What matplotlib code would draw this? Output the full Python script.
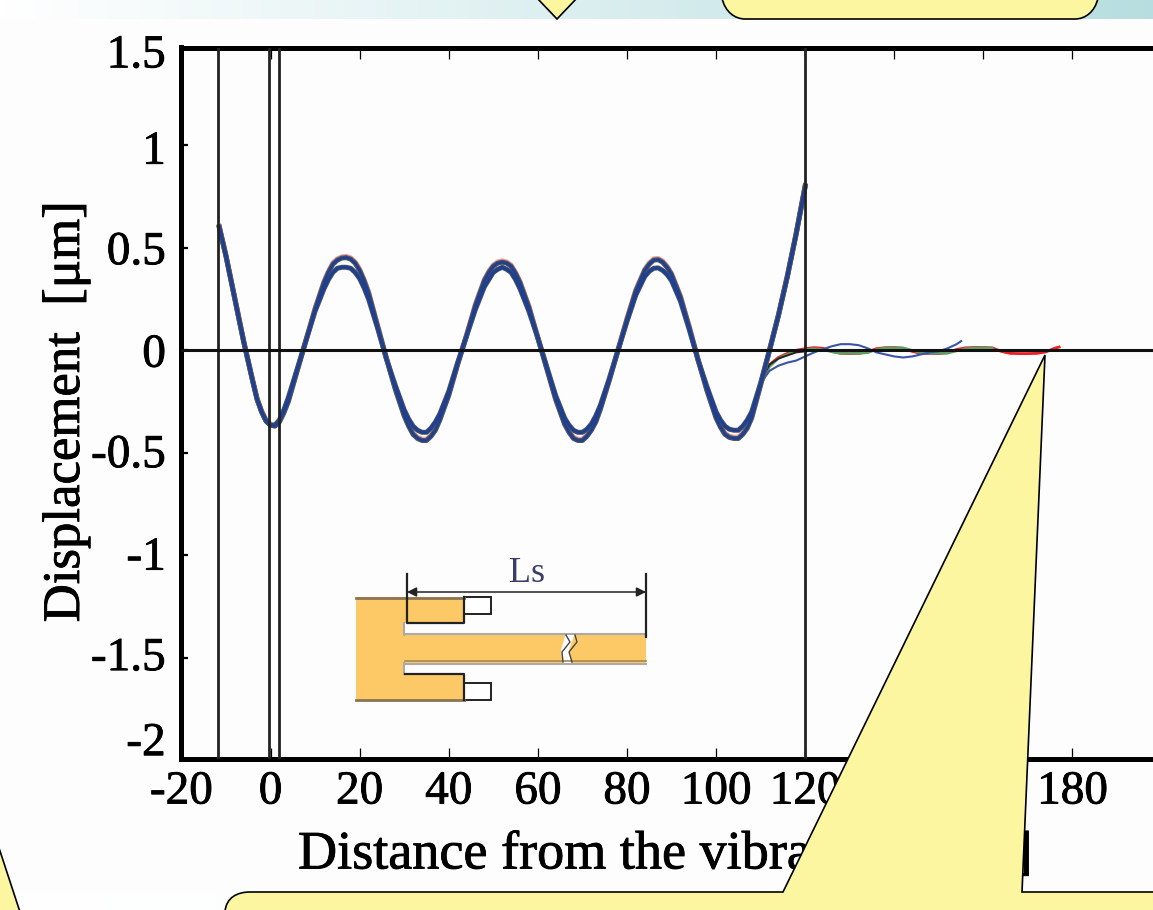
import matplotlib
matplotlib.use("Agg")
import matplotlib.pyplot as plt
import matplotlib.patheffects as pe
import numpy as np
from matplotlib.patches import Polygon, Rectangle, PathPatch
from matplotlib.path import Path

W, H = 1153, 910

# main standing wave
x_main = [-11.5, -10, -8, -6, -4, -3, -2, -1, 0, 1, 2, 3, 4, 6, 8, 10, 12, 13, 14, 15, 16, 17, 18, 19, 20, 21, 22, 24, 26, 28, 30, 31, 32, 33, 34, 35,
          36, 37, 38, 40, 42, 44, 46, 48, 49, 50, 51, 52, 53, 54, 55, 56, 58, 60, 62, 64, 66, 67, 68, 69, 70, 71, 72, 73, 74, 76, 78,
          80, 82, 84, 85, 86, 87, 88, 89, 90, 92, 94, 96, 98, 100, 101, 102, 103, 104, 105, 106, 107, 108, 110, 112, 114, 116, 118, 120]
y_outer = [0.60, 0.46, 0.25, 0.04, -0.15, -0.24, -0.30, -0.345, -0.365, -0.37, -0.35, -0.305, -0.25, -0.10, 0.05, 0.20, 0.33, 0.38, 0.42, 0.44, 0.45, 0.452, 0.445, 0.425,
           0.39, 0.34, 0.28, 0.12, -0.04, -0.19, -0.32, -0.37, -0.41, -0.43, -0.44, -0.44,
           -0.42, -0.39, -0.34, -0.22, -0.07, 0.07, 0.22, 0.34, 0.38, 0.41, 0.425, 0.43, 0.425, 0.41, 0.375, 0.33, 0.21, 0.06, -0.09, -0.24, -0.36, -0.40,
           -0.43, -0.44, -0.44, -0.42, -0.39, -0.35, -0.29, -0.15, 0.0,
           0.15, 0.29, 0.39, 0.42, 0.44, 0.442, 0.43, 0.405, 0.37, 0.26, 0.11, -0.05, -0.20, -0.33, -0.375, -0.41, -0.425, -0.43, -0.43, -0.41, -0.38, -0.33, -0.17,
           0.0, 0.17, 0.36, 0.57, 0.80]
y_inner = [0.60, 0.46, 0.25, 0.04, -0.15, -0.24, -0.30, -0.345, -0.365, -0.365, -0.34, -0.29, -0.23, -0.09, 0.05, 0.19, 0.30, 0.345, 0.38, 0.40, 0.405, 0.405, 0.40, 0.38,
           0.35, 0.305, 0.25, 0.11, -0.04, -0.17, -0.29, -0.335, -0.37, -0.39, -0.40, -0.40,
           -0.38, -0.35, -0.31, -0.20, -0.06, 0.07, 0.20, 0.31, 0.345, 0.38, 0.395, 0.405, 0.395, 0.38, 0.345, 0.30, 0.19, 0.06, -0.08, -0.22, -0.33, -0.365,
           -0.39, -0.40, -0.40, -0.385, -0.36, -0.32, -0.27, -0.14, 0.0,
           0.14, 0.27, 0.36, 0.385, 0.40, 0.402, 0.39, 0.37, 0.34, 0.24, 0.10, -0.05, -0.18, -0.30, -0.34, -0.37, -0.385, -0.39, -0.39, -0.37, -0.34, -0.30, -0.16,
           0.0, 0.17, 0.36, 0.57, 0.80]

# transmitted tails
x_blue = [110, 111, 112, 114, 116, 118, 120, 122, 124, 126, 128, 130, 132, 134, 136, 138, 140, 142, 144, 146, 148, 150, 152, 154, 155]
y_blue = [-0.17, -0.13, -0.10, -0.075, -0.06, -0.05, -0.03, -0.01, 0.005, 0.02, 0.03, 0.03, 0.025, 0.01,
          -0.01, -0.02, -0.03, -0.035, -0.03, -0.02, -0.01, -0.005, 0.01, 0.03, 0.045]
x_black = [110, 111, 112, 114, 116, 118, 120, 122]
y_black = [-0.17, -0.11, -0.07, -0.04, -0.025, -0.01, -0.005, 0.0]
x_red = [110, 112, 114, 116, 118, 120, 122, 124, 126, 128, 130, 132, 134, 136, 138, 140, 142, 144, 146, 148,
         150, 152, 154, 156, 158, 160, 162, 164, 166, 168, 170, 172, 174, 176, 177]
y_red = [-0.17, -0.07, -0.035, -0.015, 0.0, 0.008, 0.013, 0.01, -0.005, -0.015, -0.016, -0.015, -0.008, 0.008, 0.013, 0.014,
         0.01, -0.005, -0.015, -0.016, -0.016, -0.012, 0.004, 0.012, 0.014, 0.014, 0.012, -0.005, -0.015, -0.016, -0.016,
         -0.015, -0.008, 0.01, 0.016]
x_green = [110, 112, 114, 116, 118, 120, 122, 124, 126, 128, 130, 132, 134, 136, 138, 140, 142, 144, 146, 148, 150,
           152, 154, 156, 158, 160, 162]
y_green = [-0.17, -0.08, -0.04, -0.02, -0.005, 0.004, 0.008, 0.004, -0.008, -0.015, -0.015, -0.015, -0.012, 0.004, 0.012, 0.013,
           0.012, 0.0, -0.012, -0.015, -0.015, -0.014, -0.003, 0.008, 0.012, 0.013, 0.012]

vlines = [-11.7, -0.3, 1.9, 120]
xticks = [-20, 0, 20, 40, 60, 80, 100, 120, 140, 160, 180]
xtick_labels = ["-20", "0", "20", "40", "60", "80", "100", "120", "140", "160", "180"]
# label centres sit a little off their ticks in the picture
ylabel_pos = [1.435, 0.965, 0.475, -0.025, -0.515, -1.015, -1.505, -1.92]
ylabel_txt = ["1.5", "1", "0.5", "0", "-0.5", "-1", "-1.5", "-2"]
yticks = [-1.5, -1, -0.5, 0, 0.5, 1]

plt.rcParams['font.family'] = ['Liberation Serif', 'DejaVu Serif']
heavy = [pe.withStroke(linewidth=0.6, foreground="black")]

fig = plt.figure(figsize=(W / 100, H / 100), dpi=100, facecolor="#fdfdfd")


def px_axes(left, top, right, bottom, **kw):
    return fig.add_axes([left / W, 1 - bottom / H, (right - left) / W, (bottom - top) / H], **kw)


# background gradient strips
bg = fig.add_axes([0, 0, 1, 1], zorder=0)
bg.axis("off")
c0 = np.array([1.0, 1.0, 1.0])
c1 = np.array([0.72, 0.87, 0.88])
grad = np.linspace(0, 1, 256)[:, None] * (c1 - c0) + c0
bg.imshow(grad[None, :, :], extent=(0, W, 19, 0), aspect="auto")
bg.imshow(grad[None, :, :] * 0.15 + 0.85, extent=(0, W, H, 892), aspect="auto")
bg.set_xlim(0, W)
bg.set_ylim(H, 0)

# main chart
ax = px_axes(181.4, 47.5, 1161.6, 758.5, zorder=1)
ax.patch.set_alpha(0)
ax.set_xlim(-20, 200)
ax.set_ylim(-1.991, 1.477)

ax.plot(x_red, y_red, color="#ee1c25", lw=2.0)
ax.plot(x_green, y_green, color="#5fa06a", lw=1.8)
ax.plot(x_black, y_black, color="#222222", lw=1.4)
ax.plot(x_blue, y_blue, color="#3a55a5", lw=1.5)
ax.plot(x_main, np.array(y_outer) + 0.006, color="#f0a0a0", lw=3.6)
ax.plot(x_main, y_outer, color="#50555f", lw=3.6)
ax.plot(x_main, y_inner, color="#50555f", lw=3.6)
ax.plot(x_main, y_outer, color="#1f3f8f", lw=2.0)
ax.plot(x_main, y_inner, color="#1f3f8f", lw=2.4)

for xv in vlines:
    ax.axvline(xv, color="#222222", lw=2.0, zorder=5)
ax.axhline(0, color="#111111", lw=2.2, zorder=5)

for side in ax.spines.values():
    side.set_linewidth(3.6)
ax.set_xticks(xticks)
ax.set_xticklabels(xtick_labels, path_effects=heavy)
ax.set_yticks(yticks)
ax.set_yticklabels([])
ax.tick_params(axis="x", direction="in", top=True, length=8, width=0.9, labelsize=34, pad=9)
ax.tick_params(axis="y", direction="in", right=True, length=5, width=1.6)
for yp, yt in zip(ylabel_pos, ylabel_txt):
    ax.text(-23.5, yp, yt, ha="right", va="center", fontsize=34, path_effects=heavy)

# axis titles live on ax (not the figure) so the callouts can cover them
ax.text(66 / W, 1 - 412 / H, "Displacement  [\u03bcm]", rotation=90, ha="center", va="center",
        fontsize=38, path_effects=heavy, transform=fig.transFigure, clip_on=False)
ax.text(298 / W, 1 - 855 / H, "Distance from the vibrator    [\u03bcm]", ha="left", va="center",
        fontsize=39, path_effects=heavy, transform=fig.transFigure, clip_on=False)

# overlay in pixel coordinates: inset sketch and callouts
ov = fig.add_axes([0, 0, 1, 1], zorder=2)
ov.set_xlim(0, W)
ov.set_ylim(H, 0)
ov.axis("off")

gold = "#fdc966"
body = [(356, 597), (464, 597), (464, 623), (405, 623), (405, 635), (646, 635), (646, 663),
        (405, 663), (405, 674), (464, 674), (464, 700), (356, 700)]
ov.add_patch(Polygon(body, closed=True, fc=gold, ec="none"))
ov.plot([356, 464], [597.5, 597.5], color="#8a7550", lw=2)
ov.plot([356, 464], [699.5, 699.5], color="#8a7550", lw=2)
ov.plot([405, 646], [634, 634], color="#aaaaaa", lw=1.5)
ov.plot([405, 646], [664, 664], color="#aaaaaa", lw=1.5)
ov.plot([405, 646], [661, 661], color="#a58a50", lw=1.2)
ov.plot([404, 404], [623, 635], color="#aaaaaa", lw=1.5)
ov.plot([404, 404], [663, 674], color="#aaaaaa", lw=1.5)
for yr in (597, 683):
    ov.add_patch(Rectangle((464, yr), 27, 17, fc="white", ec="#222222", lw=1.4))
ov.plot([406.5, 406.5, 464, 464], [574, 623, 623, 597], color="#222222", lw=1.6)
ov.plot([405, 464, 464], [674, 674, 700], color="#222222", lw=1.6)
ov.plot([646, 646], [574, 637], color="#222222", lw=1.6)
ov.annotate("", xy=(407, 592), xytext=(646, 592),
            arrowprops=dict(arrowstyle="<|-|>", color="#222222", lw=1.1, shrinkA=0, shrinkB=0, mutation_scale=14))
ov.add_patch(Polygon([(566, 633), (575, 633), (569, 650), (572, 666), (563, 666), (561, 650)], closed=True, fc="white", ec="none"))
ov.plot([566, 570, 562, 563], [635, 642, 652, 662], color="#444444", lw=1)
ov.plot([575, 577, 569, 572], [635, 642, 652, 662], color="#444444", lw=1)
ov.text(527, 573, "Ls", ha="center", va="center", fontsize=26, color="#3a3f66")

yellow = "#fdf6a0"
ov.add_patch(Polygon([(537, -2), (557, 19), (577, -2)], closed=False, fc=yellow, ec="black", lw=1.2))
top_box = Path([(722, -2), (725, 12), (735, 19), (745, 19), (1075, 19), (1085, 19), (1095, 12), (1098, -2)],
               [Path.MOVETO, Path.CURVE4, Path.CURVE4, Path.CURVE4, Path.LINETO, Path.CURVE4, Path.CURVE4, Path.CURVE4])
ov.add_patch(PathPatch(top_box, fc=yellow, ec="black", lw=1.2))
ov.add_patch(Polygon([(-2, 845), (20, 912), (-2, 912)], closed=True, fc=yellow, ec="black", lw=1.2))
big = Path([(225, 912), (226, 897), (238, 892), (250, 892), (783, 892), (1045, 355), (1022, 892), (1156, 892), (1156, 912), (225, 912)],
           [Path.MOVETO, Path.CURVE4, Path.CURVE4, Path.CURVE4, Path.LINETO, Path.LINETO, Path.LINETO, Path.LINETO, Path.LINETO, Path.CLOSEPOLY])
ov.add_patch(PathPatch(big, fc=yellow, ec="black", lw=1.2))

fig.savefig("out.png", dpi=100, facecolor=fig.get_facecolor())
